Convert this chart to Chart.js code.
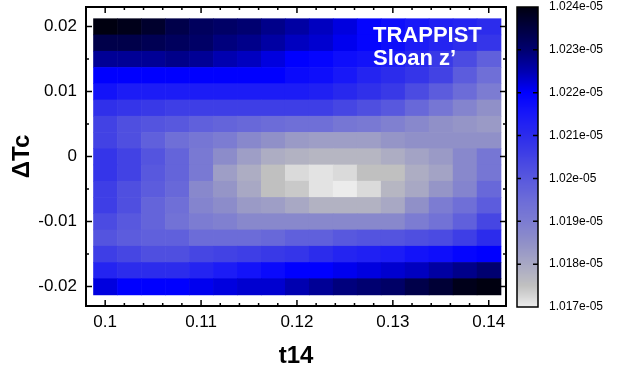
<!DOCTYPE html>
<html>
<head>
<meta charset="utf-8">
<script src="https://cdn.jsdelivr.net/npm/chart.js@4.4.1/dist/chart.umd.min.js"></script>
<style>
  html, body { margin: 0; padding: 0; background: #fff; }
  #palco { position: relative; width: 637px; height: 376px; }
  #mapa { position: absolute; left: 0; top: 0; }
  #barra { position: absolute; left: 500px; top: 0; }
</style>
</head>
<body>
<div id="palco">
  <canvas id="mapa" width="637" height="376"></canvas>
  <canvas id="barra" width="137" height="376"></canvas>
</div>
<script>
/* Mapa de chi² (t14 x ΔTc) com barra de cores ao lado. */
(() => {
  'use strict';

  // centros das células (17 x 17)
  const T14 = [0.1, 0.1025, 0.105, 0.1075, 0.11, 0.1125, 0.115, 0.1175, 0.12,
    0.1225, 0.125, 0.1275, 0.13, 0.1325, 0.135, 0.1375, 0.14];
  const DTC = [0.02, 0.0175, 0.015, 0.0125, 0.01, 0.0075, 0.005, 0.0025, 0,
    -0.0025, -0.005, -0.0075, -0.01, -0.0125, -0.015, -0.0175, -0.02];

  // valores em unidades de 1e-05, uma linha por ΔTc (de cima para baixo)
  const UNIDADE = 1e-5;
  const VALORES = [
    [1.0240, 1.0239, 1.0237, 1.0234, 1.0232, 1.0231, 1.0230, 1.0228, 1.0226, 1.0224, 1.0222, 1.0219, 1.0217, 1.0215, 1.0213, 1.0212, 1.0210],
    [1.0234, 1.0234, 1.0233, 1.0232, 1.0231, 1.0229, 1.0228, 1.0226, 1.0224, 1.0223, 1.0221, 1.0219, 1.0217, 1.0214, 1.0212, 1.0210, 1.0208],
    [1.0227, 1.0227, 1.0227, 1.0228, 1.0227, 1.0225, 1.0224, 1.0222, 1.0220, 1.0219, 1.0217, 1.0216, 1.0214, 1.0211, 1.0207, 1.0203, 1.0198],
    [1.0220, 1.0220, 1.0220, 1.0220, 1.0220, 1.0220, 1.0220, 1.0220, 1.0218, 1.0217, 1.0215, 1.0212, 1.0210, 1.0208, 1.0205, 1.0199, 1.0194],
    [1.0216, 1.0214, 1.0214, 1.0214, 1.0214, 1.0214, 1.0214, 1.0214, 1.0214, 1.0213, 1.0211, 1.0209, 1.0207, 1.0203, 1.0199, 1.0195, 1.0190],
    [1.0209, 1.0208, 1.0207, 1.0206, 1.0206, 1.0206, 1.0206, 1.0206, 1.0206, 1.0206, 1.0204, 1.0202, 1.0200, 1.0196, 1.0192, 1.0188, 1.0185],
    [1.0205, 1.0202, 1.0201, 1.0200, 1.0198, 1.0197, 1.0196, 1.0195, 1.0194, 1.0194, 1.0192, 1.0191, 1.0189, 1.0187, 1.0185, 1.0184, 1.0183],
    [1.0205, 1.0202, 1.0198, 1.0194, 1.0192, 1.0190, 1.0187, 1.0185, 1.0183, 1.0182, 1.0182, 1.0182, 1.0184, 1.0185, 1.0185, 1.0185, 1.0185],
    [1.0208, 1.0205, 1.0201, 1.0197, 1.0191, 1.0186, 1.0182, 1.0179, 1.0178, 1.0177, 1.0177, 1.0177, 1.0179, 1.0181, 1.0183, 1.0187, 1.0192],
    [1.0208, 1.0205, 1.0200, 1.0197, 1.0191, 1.0182, 1.0179, 1.0175, 1.0172, 1.0171, 1.0172, 1.0175, 1.0175, 1.0179, 1.0181, 1.0187, 1.0192],
    [1.0206, 1.0202, 1.0199, 1.0196, 1.0187, 1.0184, 1.0180, 1.0175, 1.0174, 1.0171, 1.0170, 1.0172, 1.0177, 1.0180, 1.0184, 1.0188, 1.0196],
    [1.0206, 1.0202, 1.0197, 1.0194, 1.0188, 1.0186, 1.0183, 1.0182, 1.0180, 1.0178, 1.0178, 1.0178, 1.0180, 1.0185, 1.0190, 1.0194, 1.0199],
    [1.0203, 1.0200, 1.0197, 1.0193, 1.0190, 1.0189, 1.0187, 1.0187, 1.0187, 1.0187, 1.0187, 1.0187, 1.0187, 1.0190, 1.0193, 1.0198, 1.0204],
    [1.0201, 1.0199, 1.0198, 1.0198, 1.0195, 1.0195, 1.0195, 1.0196, 1.0198, 1.0198, 1.0200, 1.0201, 1.0201, 1.0202, 1.0203, 1.0206, 1.0210],
    [1.0206, 1.0204, 1.0202, 1.0202, 1.0204, 1.0205, 1.0206, 1.0207, 1.0208, 1.0210, 1.0212, 1.0213, 1.0214, 1.0216, 1.0217, 1.0219, 1.0220],
    [1.0212, 1.0210, 1.0210, 1.0210, 1.0212, 1.0214, 1.0216, 1.0218, 1.0220, 1.0220, 1.0221, 1.0222, 1.0223, 1.0224, 1.0226, 1.0228, 1.0230],
    [1.0222, 1.0220, 1.0220, 1.0220, 1.0221, 1.0222, 1.0223, 1.0223, 1.0225, 1.0227, 1.0229, 1.0230, 1.0231, 1.0234, 1.0236, 1.0239, 1.0240],
  ];

  const X_TICKS = [0.1, 0.11, 0.12, 0.13, 0.14];
  const Y_TICKS = [-0.02, -0.01, 0, 0.01, 0.02];
  const CB_TICKS = [1.017, 1.018, 1.019, 1.02, 1.021, 1.022, 1.023, 1.024];
  const CB_ROTULOS = ['1.017e-05', '1.018e-05', '1.019e-05', '1.02e-05',
    '1.021e-05', '1.022e-05', '1.023e-05', '1.024e-05'];

  // paleta: cinza claro -> azul -> quase preto
  const PALETA = [
    [1.0170, 236, 236, 236], [1.0175, 192, 192, 192], [1.0180, 168, 168, 196],
    [1.0185, 144, 144, 200], [1.0190, 124, 124, 210], [1.0195, 108, 108, 216],
    [1.0200, 88, 88, 222], [1.0205, 66, 66, 228], [1.0210, 44, 44, 236],
    [1.0215, 24, 24, 248], [1.0220, 0, 0, 255], [1.0225, 0, 0, 176],
    [1.0230, 0, 0, 112], [1.0235, 0, 0, 64], [1.0240, 0, 0, 16],
  ];

  const FONTE = 'Liberation Sans, Arial, Helvetica, sans-serif';
  const fmt = (v) => String(parseFloat(v.toFixed(4)));

  function corDe(v) {
    if (v <= PALETA[0][0]) return `rgb(${PALETA[0].slice(1).join(',')})`;
    for (let i = 1; i < PALETA.length; i++) {
      const a = PALETA[i - 1], b = PALETA[i];
      if (v <= b[0]) {
        const t = (v - a[0]) / (b[0] - a[0]);
        const c = [1, 2, 3].map((k) => Math.round(a[k] + (b[k] - a[k]) * t));
        return `rgb(${c.join(',')})`;
      }
    }
    const u = PALETA[PALETA.length - 1];
    return `rgb(${u.slice(1).join(',')})`;
  }

  // sem folga extra para rótulos nas pontas (a moldura fica onde o layout manda)
  const semFolga = (s) => { s.paddingTop = 0; s.paddingBottom = 0; s.paddingLeft = 0; s.paddingRight = 0; };

  const meioX = (T14[1] - T14[0]) / 2;
  const meioY = (DTC[0] - DTC[1]) / 2;

  const celulas = [];
  DTC.forEach((dtc, r) => T14.forEach((t, c) => {
    celulas.push({ x: t, y: dtc, v: VALORES[r][c] * UNIDADE });
  }));

  const pluginMapa = {
    id: 'mapa',
    beforeDatasetsDraw(chart) {
      const { ctx, scales: { x, y } } = chart;
      ctx.save();
      for (const cel of celulas) {
        const x0 = x.getPixelForValue(cel.x - meioX);
        const x1 = x.getPixelForValue(cel.x + meioX);
        const y0 = y.getPixelForValue(cel.y + meioY);
        const y1 = y.getPixelForValue(cel.y - meioY);
        ctx.fillStyle = corDe(cel.v / UNIDADE);
        ctx.fillRect(x0, y0, x1 - x0 + 0.6, y1 - y0 + 0.6);
      }
      // rótulo do instrumento
      const a = chart.chartArea;
      ctx.fillStyle = '#fff';
      ctx.font = `bold 22px ${FONTE}`;
      ctx.textBaseline = 'alphabetic';
      ctx.textAlign = 'left';
      ctx.fillText('TRAPPIST', a.left + 287, a.top + 35);
      ctx.fillText('Sloan z\u2019', a.left + 287, a.top + 58);
      ctx.restore();
    },
  };

  // moldura e marcas para dentro, nos quatro lados
  const pluginMoldura = {
    id: 'moldura',
    afterDraw(chart) {
      const { ctx, chartArea: a, scales: { x, y } } = chart;
      ctx.save();
      ctx.strokeStyle = '#000';
      ctx.lineWidth = 1.5;
      ctx.beginPath();
      const marca = (px, comp, vertical) => {
        if (vertical) {
          ctx.moveTo(px, a.bottom); ctx.lineTo(px, a.bottom - comp);
          ctx.moveTo(px, a.top); ctx.lineTo(px, a.top + comp);
        } else {
          ctx.moveTo(a.left, px); ctx.lineTo(a.left + comp, px);
          ctx.moveTo(a.right, px); ctx.lineTo(a.right - comp, px);
        }
      };
      for (let k = 49; k <= 71; k++) {
        const v = k * 0.002;
        if (v < x.min || v > x.max) continue;
        const maior = k % 5 === 0;
        marca(x.getPixelForValue(v), maior ? 6 : 3, true);
      }
      for (let k = -4; k <= 4; k++) {
        const v = k * 0.005;
        marca(y.getPixelForValue(v), k % 2 === 0 ? 6 : 3, false);
      }
      ctx.stroke();
      ctx.lineWidth = 2;
      ctx.strokeRect(a.left, a.top, a.right - a.left, a.bottom - a.top);
      ctx.restore();
    },
  };

  new Chart(document.getElementById('mapa'), {
    type: 'scatter',
    data: { datasets: [{ data: celulas, pointRadius: 0 }] },
    options: {
      responsive: false,
      animation: false,
      layout: { padding: { top: 7, right: 131, left: 0, bottom: 0 } },
      plugins: { legend: { display: false }, tooltip: { enabled: false } },
      scales: {
        x: {
          type: 'linear',
          min: 0.098,
          max: 0.1418,
          afterBuildTicks: (s) => { s.ticks = X_TICKS.map((v) => ({ value: v })); },
          afterFit: (s) => { s.height = 70; semFolga(s); },
          grid: { display: false, drawTicks: false },
          border: { display: false },
          ticks: { padding: 6, color: '#000', font: { family: FONTE, size: 17 }, callback: (v) => fmt(v), maxRotation: 0 },
          title: { display: true, text: 't14', color: '#000', font: { family: FONTE, size: 24, weight: 'bold' }, padding: { top: 0, bottom: 5 } },
        },
        y: {
          type: 'linear',
          min: -0.023,
          max: 0.023,
          afterBuildTicks: (s) => { s.ticks = Y_TICKS.map((v) => ({ value: v })); },
          afterFit: (s) => { s.width = 86; semFolga(s); },
          grid: { display: false, drawTicks: false },
          border: { display: false },
          ticks: { padding: 9, color: '#000', font: { family: FONTE, size: 17 }, callback: (v) => fmt(v) },
          title: { display: true, text: '\u0394Tc', color: '#000', font: { family: FONTE, size: 24, weight: 'bold' }, padding: { top: 8, bottom: 0 } },
        },
      },
    },
    plugins: [pluginMapa, pluginMoldura],
  });

  const pluginBarra = {
    id: 'barra',
    beforeDatasetsDraw(chart) {
      const { ctx, chartArea: a, scales: { y } } = chart;
      ctx.save();
      for (let py = Math.floor(a.top); py < a.bottom; py++) {
        ctx.fillStyle = corDe(y.getValueForPixel(py + 0.5));
        ctx.fillRect(a.left, py, a.right - a.left, 1);
      }
      ctx.strokeStyle = '#000';
      ctx.lineWidth = 1.5;
      ctx.beginPath();
      for (const v of CB_TICKS.slice(1, -1)) {
        const py = y.getPixelForValue(v);
        ctx.moveTo(a.left, py); ctx.lineTo(a.left + 4, py);
        ctx.moveTo(a.right, py); ctx.lineTo(a.right - 5, py);
      }
      ctx.stroke();
      ctx.strokeRect(a.left, a.top, a.right - a.left, a.bottom - a.top);
      ctx.restore();
    },
  };

  new Chart(document.getElementById('barra'), {
    type: 'scatter',
    data: { datasets: [] },
    options: {
      responsive: false,
      animation: false,
      layout: { padding: { top: 7, left: 17, right: 0, bottom: 69 } },
      plugins: { legend: { display: false }, tooltip: { enabled: false } },
      scales: {
        x: { display: false, min: 0, max: 1 },
        y: {
          position: 'right',
          min: 1.017,
          max: 1.024,
          afterBuildTicks: (s) => { s.ticks = CB_TICKS.map((v) => ({ value: v })); },
          afterFit: (s) => { s.width = 99; semFolga(s); },
          grid: { display: false, drawTicks: false },
          border: { display: false },
          ticks: {
            padding: 11,
            autoSkip: false,
            color: '#000',
            font: { family: FONTE, size: 12 },
            callback: (v) => CB_ROTULOS[CB_TICKS.findIndex((t) => Math.abs(t - v) < 1e-6)],
          },
        },
      },
    },
    plugins: [pluginBarra],
  });
})();
</script>
</body>
</html>
